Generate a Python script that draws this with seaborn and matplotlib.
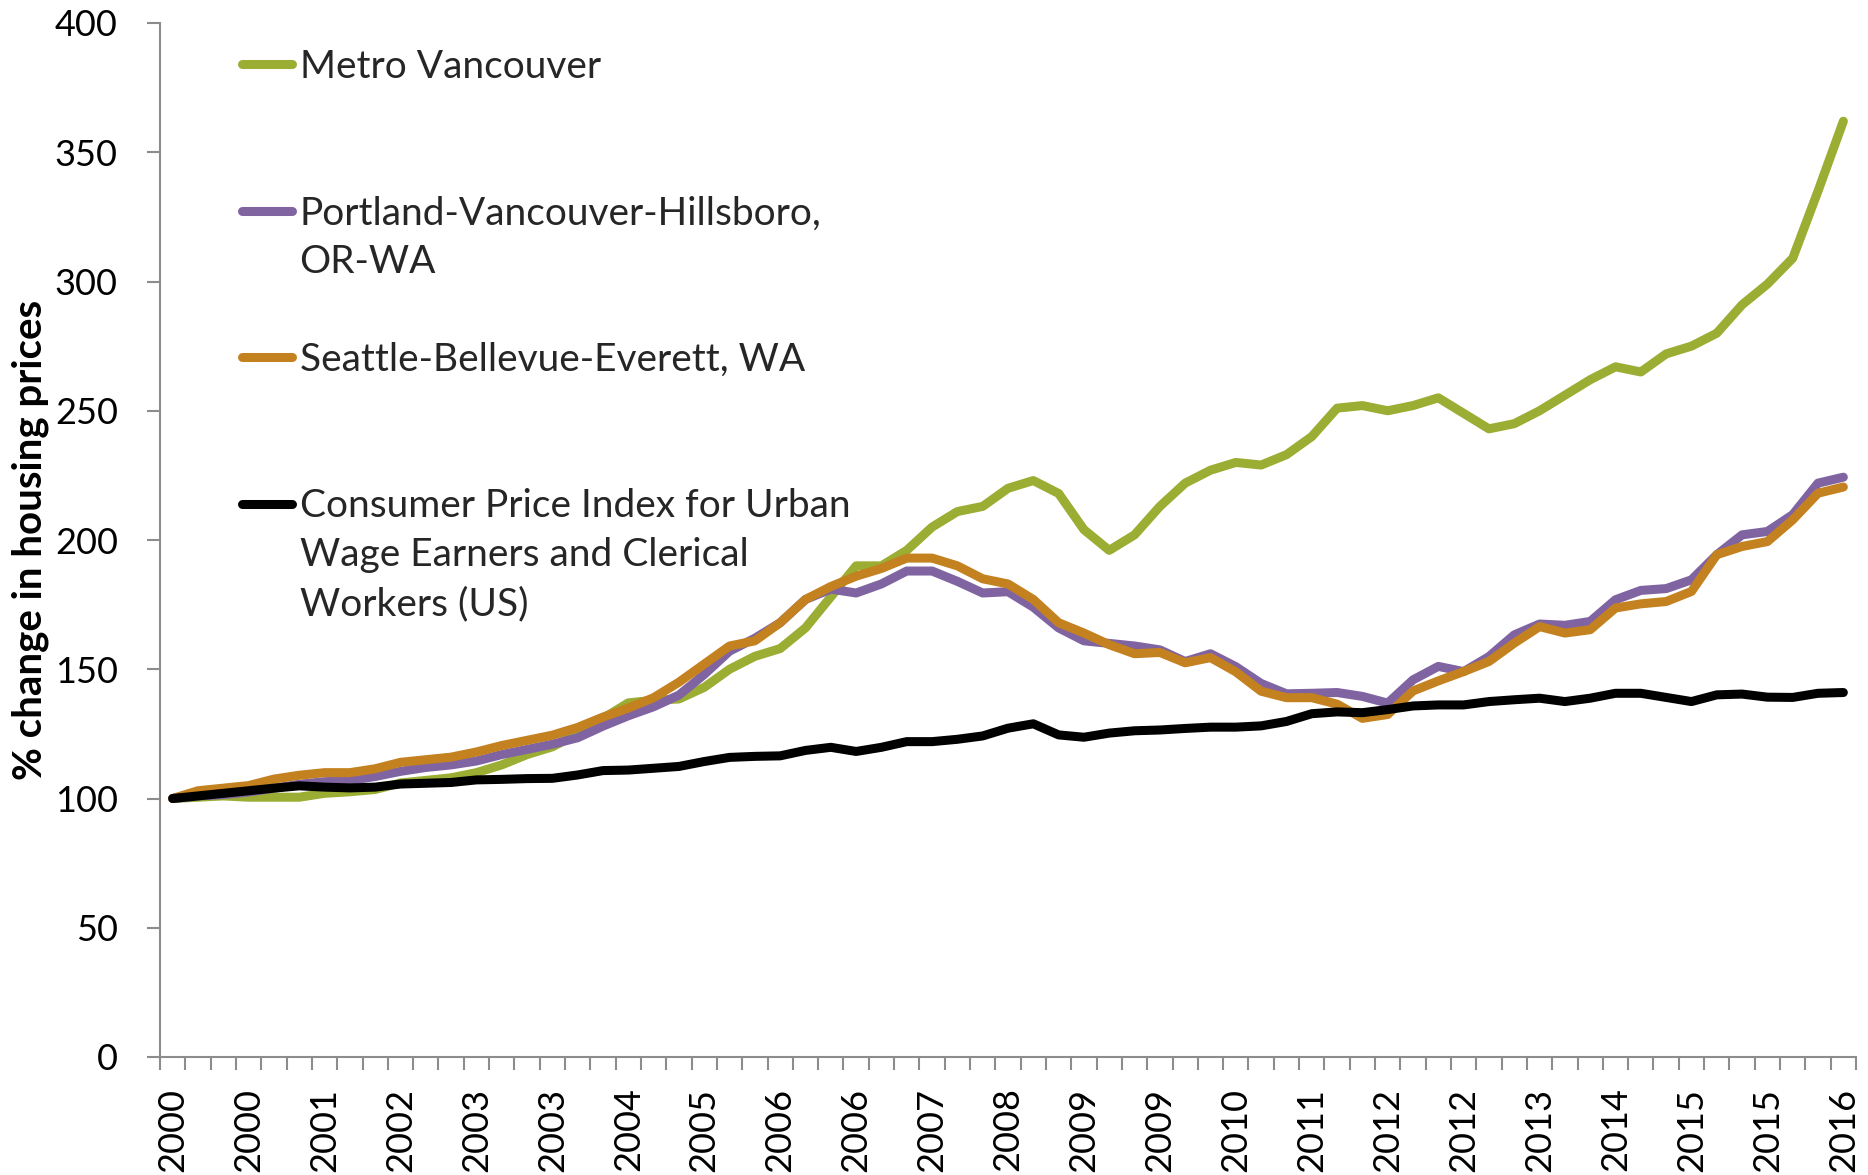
import numpy as np
import pandas as pd
import matplotlib
matplotlib.use("Agg")
import matplotlib.pyplot as plt
from matplotlib.lines import Line2D
from matplotlib.ticker import FixedLocator, MultipleLocator
import seaborn as sns

# ---------------- data ----------------
tick_labels = ["2000", "2000", "2001", "2002", "2003", "2003", "2004", "2005",
               "2006", "2006", "2007", "2008", "2009", "2009", "2010", "2011",
               "2012", "2012", "2013", "2014", "2015", "2015", "2016"]

series_names = ["Metro Vancouver",
                "Portland-Vancouver-Hillsboro, OR-WA",
                "Seattle-Bellevue-Everett, WA",
                "Consumer Price Index for Urban Wage Earners and Clerical Workers (US)"]

metro_vancouver = [100, 100.5, 101, 100.5, 100.5, 100.5, 102, 102.6, 103.5, 106,
                   107, 108, 110, 113, 117, 120, 125, 131, 137, 138,
                   138.5, 143, 150, 155, 158, 166, 178, 190, 190, 196,
                   205, 211, 213, 220, 223, 218, 204, 196, 202, 213,
                   222, 227, 230, 229, 233, 240, 251, 252, 250, 252,
                   255, 249, 243, 245, 250, 256, 262, 267, 265, 272,
                   275, 280, 291, 299, 309, 335, 362]

portland = [100, 101, 101.5, 102.5, 104, 105.5, 106.5, 107, 108.5, 110.5,
            112, 113, 114.5, 117, 119, 121, 123.5, 128, 132, 135.5,
            140, 148, 157, 162, 168, 177, 181, 179.5, 183, 188,
            188, 184, 179.5, 180, 174, 166, 161, 160, 159, 157.5,
            153, 156, 151, 144.5, 140.5, 140.7, 141, 139.5, 136.9, 145.9,
            151.1, 149.1, 154.9, 163.3, 167.5, 167, 168.5, 176.9, 180.5, 181.2,
            184.6, 194.3, 202, 203.3, 209.8, 222, 224.3]

seattle = [100, 103, 104, 105, 107.5, 109, 110, 110, 111.5, 114,
           115, 116, 118, 120.5, 122.5, 124.5, 127.5, 131.5, 135, 139,
           145, 152, 159, 161, 168, 177, 182, 186, 189, 193,
           193, 190, 185, 183, 177, 168, 164, 159.5, 156, 156.5,
           152.5, 154.5, 149, 141.5, 139, 139, 136.5, 131, 132.5, 141.6,
           145.5, 149.1, 153, 160.1, 166.5, 164, 165.3, 173.7, 175.3, 176.2,
           180.1, 194.3, 197.5, 199.4, 207.8, 218.1, 220.5]

cpi = [100, 101, 102, 103, 104, 104.9, 104.4, 104.1, 104.4, 105.6,
       105.9, 106.2, 107.2, 107.4, 107.7, 107.8, 109.1, 110.8, 111, 111.7,
       112.4, 114.3, 115.9, 116.3, 116.5, 118.6, 119.8, 118.2, 119.8, 122,
       122, 122.9, 124.2, 127.2, 128.9, 124.6, 123.7, 125.3, 126.2, 126.5,
       127.1, 127.6, 127.6, 128.1, 129.8, 132.8, 133.5, 133.2, 134.4, 135.8,
       136.2, 136.2, 137.5, 138.2, 138.8, 137.5, 138.8, 140.7, 140.7, 139.1,
       137.5, 140.1, 140.4, 139.2, 139.1, 140.7, 141]

colors = ["#9BAD32", "#8064A2", "#C4811F", "#000000"]

legend_lines = [["Metro Vancouver"],
                ["Portland-Vancouver-Hillsboro,", "OR-WA"],
                ["Seattle-Bellevue-Everett, WA"],
                ["Consumer Price Index for Urban", "Wage Earners and Clerical",
                 "Workers (US)"]]

# ---------------- frame ----------------
values = [metro_vancouver, portland, seattle, cpi]
n = len(cpi)
df = pd.concat([pd.DataFrame({"idx": np.arange(n), "value": v, "series": s})
                for v, s in zip(values, series_names)], ignore_index=True)

sns.set_theme(style="white")
plt.rcParams["font.family"] = ["Lato", "DejaVu Sans"]

W, H = 1868, 1175
fig = plt.figure(figsize=(W / 100, H / 100), dpi=100)
ax = fig.add_axes([160 / W, 1 - 1057 / H, (1856 - 160) / W, (1057 - 23) / H])

LW = 6.5
sns.lineplot(data=df, x="idx", y="value", hue="series", hue_order=series_names,
             palette=dict(zip(series_names, colors)), linewidth=LW,
             sort=False, legend=False, ax=ax)
for ln in ax.lines:
    ln.set_solid_capstyle("round")
    ln.set_solid_joinstyle("round")

ax.set_xlim(-0.5, n - 0.5)
ax.set_ylim(0, 400)
ax.yaxis.set_major_locator(MultipleLocator(50))
ax.xaxis.set_major_locator(FixedLocator(np.arange(0, n, 3)))
ax.set_xticklabels(tick_labels, rotation=90)
ax.xaxis.set_minor_locator(FixedLocator(np.arange(n + 1) - 0.5))

grey = "#8C8C8C"
for side in ["top", "right"]:
    ax.spines[side].set_visible(False)
for side in ["left", "bottom"]:
    ax.spines[side].set_color(grey)
    ax.spines[side].set_linewidth(1.5)

ax.tick_params(axis="x", which="major", length=0, pad=22, labelsize=26,
               labelcolor="black")
ax.tick_params(axis="x", which="minor", length=9.4, width=1.5, color=grey,
               direction="out", bottom=True)
ax.tick_params(axis="y", which="major", length=9.4, width=1.5, color=grey,
               direction="out", left=True, pad=21, labelsize=26,
               labelcolor="black")

ax.set_xlabel("")
ax.set_ylabel("% change in housing prices", fontsize=29, fontweight="bold",
              color="black", labelpad=4)

# legend: one row per text line, blank rows between entries
handles, labels = [], []
blank = Line2D([], [], color="none")
for k, (lines, c) in enumerate(zip(legend_lines, colors)):
    for j, t in enumerate(lines):
        if j == 0:
            handles.append(Line2D([], [], color=c, linewidth=LW,
                                  solid_capstyle="round"))
        else:
            handles.append(blank)
        labels.append(t)
    if k < len(legend_lines) - 1:
        gap = 2 if len(lines) == 1 else 1
        for _ in range(gap):
            handles.append(blank)
            labels.append(" ")

ax.legend(handles, labels, loc="upper left", bbox_to_anchor=(0.0486, 0.975),
          frameon=False, fontsize=28, handlelength=1.27, handletextpad=0.2,
          labelspacing=0.33, borderpad=0, borderaxespad=0)

fig.savefig("out.png", dpi=100)
